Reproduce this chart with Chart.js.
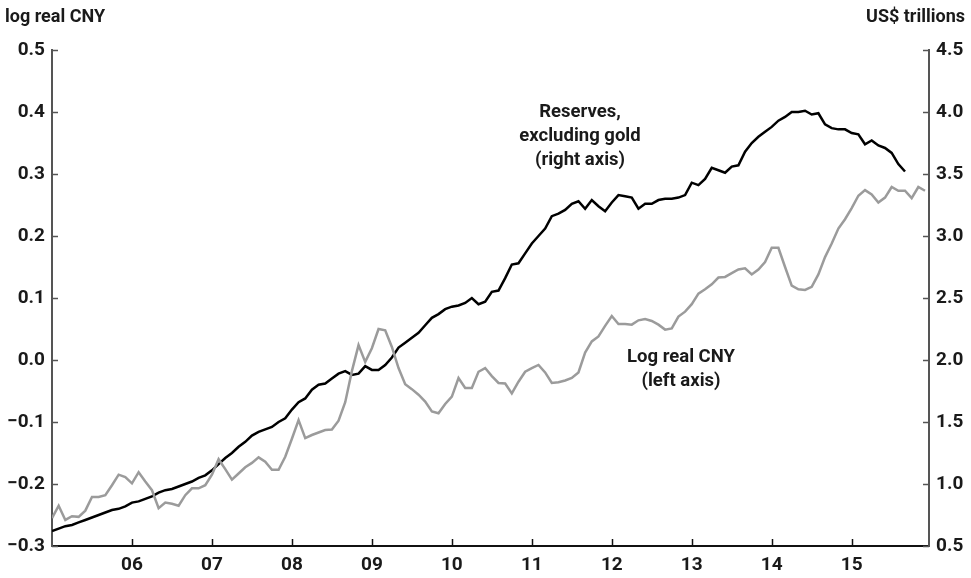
<!DOCTYPE html>
<html>
<head>
<meta charset="utf-8">
<script src="https://cdn.jsdelivr.net/npm/chart.js@4.4.1/dist/chart.umd.min.js"></script>
<style>
  html, body { margin: 0; padding: 0; background: #fff; }
  #wrap { width: 971px; height: 578px; position: relative; }
</style>
</head>
<body>
<div id="wrap"><canvas id="chart"></canvas></div>
<script>
// monthly, Jan 2005 onwards
const yearLabels = ["06", "07", "08", "09", "10", "11", "12", "13", "14", "15"];

// reserves excluding gold, US$ trillions (right axis), Jan 2005 - Sep 2015
const reserves = [
  0.62, 0.64, 0.66, 0.67, 0.69, 0.71, 0.73, 0.75, 0.77, 0.79, 0.80, 0.82,
  0.85, 0.86, 0.88, 0.90, 0.93, 0.95, 0.96, 0.98, 1.00, 1.02, 1.05, 1.07,
  1.11, 1.16, 1.21, 1.25, 1.30, 1.34, 1.39, 1.42, 1.44, 1.46, 1.50, 1.53,
  1.60, 1.66, 1.69, 1.76, 1.80, 1.81, 1.85, 1.89, 1.91, 1.88, 1.89, 1.95,
  1.92, 1.92, 1.96, 2.02, 2.10, 2.14, 2.18, 2.22, 2.28, 2.34, 2.37, 2.41,
  2.43, 2.44, 2.46, 2.50, 2.45, 2.47, 2.55, 2.56, 2.66, 2.77, 2.78, 2.86,
  2.94, 3.00, 3.06, 3.16, 3.18, 3.21, 3.26, 3.28, 3.22, 3.29, 3.24, 3.20,
  3.27, 3.33, 3.32, 3.31, 3.22, 3.26, 3.26, 3.29, 3.30, 3.30, 3.31, 3.33,
  3.43, 3.41, 3.46, 3.55, 3.53, 3.51, 3.56, 3.57, 3.68, 3.75, 3.80, 3.84,
  3.88, 3.93, 3.96, 4.00, 4.00, 4.01, 3.98, 3.99, 3.90, 3.87, 3.86, 3.86,
  3.83, 3.82, 3.74, 3.77, 3.73, 3.71, 3.67, 3.58, 3.52
];

// log real CNY (left axis), Jan 2005 - Dec 2015
const logRealCny = [
  -0.255, -0.235, -0.258, -0.252, -0.253, -0.243, -0.221, -0.221, -0.218, -0.202, -0.185, -0.189,
  -0.199, -0.181, -0.196, -0.210, -0.239, -0.230, -0.232, -0.235, -0.218, -0.207, -0.207, -0.202,
  -0.185, -0.160, -0.176, -0.193, -0.183, -0.173, -0.166, -0.157, -0.164, -0.177, -0.177, -0.156,
  -0.127, -0.097, -0.126, -0.121, -0.117, -0.113, -0.112, -0.098, -0.068, -0.018, 0.024, -0.003,
  0.019, 0.050, 0.048, 0.021, -0.013, -0.039, -0.047, -0.056, -0.067, -0.083, -0.086, -0.071,
  -0.059, -0.029, -0.045, -0.045, -0.019, -0.013, -0.026, -0.037, -0.038, -0.054, -0.035, -0.019,
  -0.013, -0.008, -0.020, -0.037, -0.036, -0.033, -0.029, -0.020, 0.012, 0.030, 0.038, 0.055,
  0.071, 0.058, 0.058, 0.057, 0.064, 0.066, 0.063, 0.057, 0.049, 0.051, 0.070, 0.078,
  0.090, 0.107, 0.114, 0.122, 0.133, 0.134, 0.140, 0.146, 0.148, 0.138, 0.146, 0.158,
  0.181, 0.181, 0.150, 0.120, 0.114, 0.113, 0.118, 0.138, 0.166, 0.188, 0.212, 0.227,
  0.245, 0.265, 0.274, 0.267, 0.254, 0.262, 0.279, 0.273, 0.273, 0.261, 0.279, 0.273
];

const FONT = "Roboto, 'DejaVu Sans Condensed', sans-serif";
const AXIS_GREY = "#555";
const TEXT = "#1a1a1a";

const toPoints = arr => arr.map((v, i) => ({ x: i, y: v }));
const fmt = v => (v < 0 ? "\u2212" : "") + Math.abs(v).toFixed(1);

// tick marks point inwards, plus titles and in-plot labels
const decorations = {
  id: "decorations",
  afterDraw(chart) {
    const ctx = chart.ctx;
    const a = chart.chartArea;
    const yl = chart.scales.yLeft, yr = chart.scales.yRight, x = chart.scales.x;
    ctx.save();
    ctx.lineWidth = 1.5;
    ctx.strokeStyle = AXIS_GREY;
    yl.ticks.forEach(t => {
      const p = Math.round(yl.getPixelForValue(t.value)) + 0.5;
      ctx.beginPath(); ctx.moveTo(a.left, p); ctx.lineTo(a.left + 6, p); ctx.stroke();
    });
    yr.ticks.forEach(t => {
      const p = Math.round(yr.getPixelForValue(t.value)) + 0.5;
      ctx.beginPath(); ctx.moveTo(a.right, p); ctx.lineTo(a.right - 6, p); ctx.stroke();
    });
    ctx.strokeStyle = "#111";
    x.ticks.forEach(t => {
      const p = Math.round(x.getPixelForValue(t.value)) + 0.5;
      ctx.beginPath(); ctx.moveTo(p, a.bottom); ctx.lineTo(p, a.bottom - 7); ctx.stroke();
    });

    ctx.fillStyle = TEXT;
    ctx.textBaseline = "middle";
    ctx.font = "bold 18px " + FONT;
    ctx.textAlign = "left";
    ctx.fillText("log real CNY", 5, 17);
    ctx.textAlign = "right";
    ctx.fillText("US$ trillions", 965, 17);

    ctx.font = "bold 18.5px " + FONT;
    ctx.textAlign = "center";
    ["Reserves,", "excluding gold", "(right axis)"].forEach((s, i) => ctx.fillText(s, 580, 112 + i * 24));
    ["Log real CNY", "(left axis)"].forEach((s, i) => ctx.fillText(s, 681, 357 + i * 24));
    ctx.restore();
  }
};

const tickFont = { family: FONT, size: 19, weight: "bold" };

new Chart(document.getElementById("chart"), {
  type: "line",
  data: {
    datasets: [
      {
        label: "Log real CNY (left axis)",
        data: toPoints(logRealCny),
        yAxisID: "yLeft",
        borderColor: "#9b9b9b",
        borderWidth: 2.5,
        pointRadius: 0,
        tension: 0,
      },
      {
        label: "Reserves, excluding gold (right axis)",
        data: toPoints(reserves),
        yAxisID: "yRight",
        borderColor: "#000",
        borderWidth: 2.5,
        pointRadius: 0,
        tension: 0,
      },
    ]
  },
  options: {
    responsive: true,
    maintainAspectRatio: false,
    animation: false,
    layout: { padding: { top: 50, left: 0, right: 0, bottom: 0 } },
    plugins: {
      legend: { display: false },
      tooltip: { enabled: false },
    },
    scales: {
      x: {
        type: "linear",
        min: 0,
        max: 131.6,
        afterBuildTicks: axis => {
          axis.ticks = yearLabels.map((_, k) => ({ value: (k + 1) * 12 }));
        },
        afterFit: axis => { axis.height = 32; },
        grid: { display: false, drawTicks: false },
        border: { display: true, color: "#111", width: 2 },
        ticks: {
          autoSkip: false,
          maxRotation: 0,
          padding: 8,
          color: TEXT,
          font: tickFont,
          callback: v => yearLabels[v / 12 - 1],
        },
      },
      yLeft: {
        position: "left",
        min: -0.3,
        max: 0.5,
        afterFit: axis => { axis.width = 52; },
        grid: { display: false, drawTicks: false },
        border: { display: true, color: AXIS_GREY, width: 2 },
        ticks: {
          stepSize: 0.1,
          padding: 7,
          color: TEXT,
          font: tickFont,
          callback: v => fmt(v),
        },
      },
      yRight: {
        position: "right",
        min: 0.5,
        max: 4.5,
        afterFit: axis => { axis.width = 42; },
        grid: { display: false, drawTicks: false },
        border: { display: true, color: AXIS_GREY, width: 2 },
        ticks: {
          stepSize: 0.5,
          padding: 7,
          color: TEXT,
          font: tickFont,
          callback: v => fmt(v),
        },
      },
    }
  },
  plugins: [decorations]
});
</script>
</body>
</html>
